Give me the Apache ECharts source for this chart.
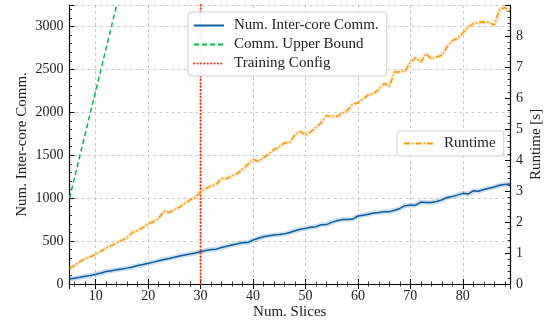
<!DOCTYPE html>
<html><head><meta charset="utf-8">
<script src="https://cdn.jsdelivr.net/npm/echarts@6/dist/echarts.min.js"></script>
<style>html,body{margin:0;padding:0;background:#fff}#c{width:553px;height:325px}</style>
</head><body><div id="c"></div>
<script>
const slices = [5,6,7,8,9,10,11,12,13,14,15,16,17,18,19,20,21,22,23,24,25,26,27,28,29,30,31,32,33,34,35,36,37,38,39,40,41,42,43,44,45,46,47,48,49,50,51,52,53,54,55,56,57,58,59,60,61,62,63,64,65,66,67,68,69,70,71,72,73,74,75,76,77,78,79,80,81,82,83,84,85,86,87,88,89];
const interCoreComm = [58,68,78,90,100,113,128,145,155,165,176,185,198,215,226,241,255,270,285,298,312,326,338,350,362,376,390,403,406,425,440,455,468,480,482,512,532,550,562,570,576,584,600,620,638,648,660,668,690,692,718,738,750,752,756,792,802,812,828,834,842,843,860,880,912,918,918,955,950,950,960,980,1008,1018,1035,1056,1048,1086,1080,1100,1115,1130,1150,1158,1165];
const runtime = [0.50,0.60,0.72,0.82,0.88,0.96,1.06,1.16,1.24,1.32,1.41,1.50,1.66,1.73,1.82,1.94,2.01,2.12,2.35,2.30,2.40,2.48,2.60,2.71,2.80,2.97,3.08,3.16,3.22,3.40,3.40,3.49,3.56,3.70,3.86,4.02,3.96,4.06,4.20,4.34,4.42,4.55,4.57,4.82,4.92,4.80,4.91,5.05,5.20,5.44,5.40,5.40,5.50,5.60,5.80,5.84,5.98,6.10,6.14,6.28,6.47,6.38,6.84,6.84,6.88,7.15,7.30,7.16,7.43,7.26,7.32,7.38,7.65,7.85,7.92,8.10,8.28,8.40,8.44,8.45,8.44,8.35,8.85,8.92,8.80];
const boundSlices = [5,6,7,8,9,10,11,12,13,14];
const upperBound = [1000,1250,1500,1750,2000,2250,2500,2750,3000,3250];
const trainingSlices = 30;
const names = ['Num. Inter-core Comm.','Comm. Upper Bound','Training Config','Runtime'];

const FONT = 'Liberation Serif';
const pair = (xs, ys) => xs.map((x, i) => [x, ys[i]]);
const tickCommon = {
  axisLine: {show: true, lineStyle: {color: '#000', width: 1.2}},
  axisTick: {show: true, inside: true, length: 5, lineStyle: {color: '#000', width: 1}},
  minorTick: {show: true, splitNumber: 5, length: 2.5, lineStyle: {color: '#000', width: 0.8}}
};
const labelStyle = {fontFamily: FONT, fontSize: 14, color: '#222'};
const nameStyle = {fontFamily: FONT, fontSize: 15, color: '#222'};
const plain = v => String(v);
const gridLine = {show: true, lineStyle: {color: '#bdbdbd', width: 0.8, type: [3, 3]}};

const chart = echarts.init(document.getElementById('c'), null, {renderer: 'canvas'});
chart.setOption({
  animation: false,
  backgroundColor: '#fff',
  grid: {left: 69.5, right: 43, top: 5, bottom: 41, containLabel: false},
  xAxis: [
    Object.assign({type: 'value', position: 'bottom', min: 5, max: 89, splitNumber: 8,
      name: 'Num. Slices', nameLocation: 'middle', nameGap: 21, nameMoveOverlap: false,
      nameTextStyle: Object.assign({}, nameStyle),
      axisLabel: Object.assign({margin: 5, showMinLabel: false, showMaxLabel: false, formatter: plain}, labelStyle),
      splitLine: gridLine}, tickCommon),
    Object.assign({type: 'value', position: 'top', min: 5, max: 89, splitNumber: 8,
      axisLabel: {show: false}, splitLine: {show: false}}, tickCommon)
  ],
  yAxis: [
    Object.assign({type: 'value', position: 'left', min: 0, max: 3250, interval: 500,
      name: 'Num. Inter-core Comm.', nameLocation: 'middle', nameRotate: 90, nameGap: 40, nameMoveOverlap: false,
      nameTextStyle: Object.assign({}, nameStyle),
      axisLabel: Object.assign({margin: 6, showMaxLabel: false, formatter: plain}, labelStyle),
      splitLine: gridLine}, tickCommon),
    Object.assign({type: 'value', position: 'right', min: 0, max: 9, interval: 1,
      name: 'Runtime [s]', nameLocation: 'middle', nameRotate: 90, nameGap: 19, nameMoveOverlap: false,
      nameTextStyle: Object.assign({}, nameStyle),
      axisLabel: Object.assign({margin: 6, showMaxLabel: false, formatter: plain}, labelStyle),
      splitLine: {show: false}}, tickCommon)
  ],
  legend: [
    {data: names.slice(0, 3), orient: 'vertical', left: 188, top: 12,
      itemWidth: 30, itemHeight: 14, itemGap: 4, padding: [6, 8, 5, 5],
      borderColor: '#cfcfcf', borderWidth: 1, borderRadius: 3,
      backgroundColor: 'rgba(255,255,255,0.92)', selectedMode: false,
      itemStyle: {opacity: 0},
      textStyle: Object.assign({padding: [0, 0, 0, 5]}, nameStyle)},
    {data: names.slice(3), orient: 'vertical', left: 397, top: 131,
      itemWidth: 29, itemHeight: 14, padding: [5, 8, 5, 6],
      borderColor: '#cfcfcf', borderWidth: 1, borderRadius: 3,
      backgroundColor: 'rgba(255,255,255,0.92)', selectedMode: false,
      itemStyle: {opacity: 0},
      textStyle: Object.assign({padding: [0, 0, 0, 6]}, nameStyle)}
  ],
  series: [
    {name: 'commBand', type: 'line', xAxisIndex: 0, yAxisIndex: 0, data: pair(slices, interCoreComm),
      symbol: 'none', silent: true, z: 1, lineStyle: {color: 'rgba(12,93,165,0.2)', width: 5}},
    {name: names[0], type: 'line', xAxisIndex: 0, yAxisIndex: 0, data: pair(slices, interCoreComm),
      symbol: 'none', z: 3, color: '#0C5DA5', lineStyle: {color: '#0C5DA5', width: 1.5}},
    {name: names[1], type: 'line', xAxisIndex: 0, yAxisIndex: 0, data: pair(boundSlices, upperBound),
      symbol: 'none', z: 3, color: '#00B945', lineStyle: {color: '#00B945', width: 1.5, type: [5, 3]}},
    {name: names[2], type: 'line', xAxisIndex: 0, yAxisIndex: 0,
      data: [[trainingSlices, 0], [trainingSlices, 3250]],
      symbol: 'none', z: 3, color: '#FF2C00', lineStyle: {color: '#FF2C00', width: 2.2, type: [0.1, 3.3], cap: 'round'}},
    {name: 'runtimeBand', type: 'line', xAxisIndex: 0, yAxisIndex: 1, data: pair(slices, runtime),
      symbol: 'none', silent: true, z: 1, lineStyle: {color: 'rgba(255,149,0,0.2)', width: 4}},
    {name: names[3], type: 'line', xAxisIndex: 0, yAxisIndex: 1, data: pair(slices, runtime),
      symbol: 'none', z: 3, color: '#FF9500', lineStyle: {color: '#FF9500', width: 1.5, type: [6, 2, 1.5, 2]}}
  ]
});
</script></body></html>
